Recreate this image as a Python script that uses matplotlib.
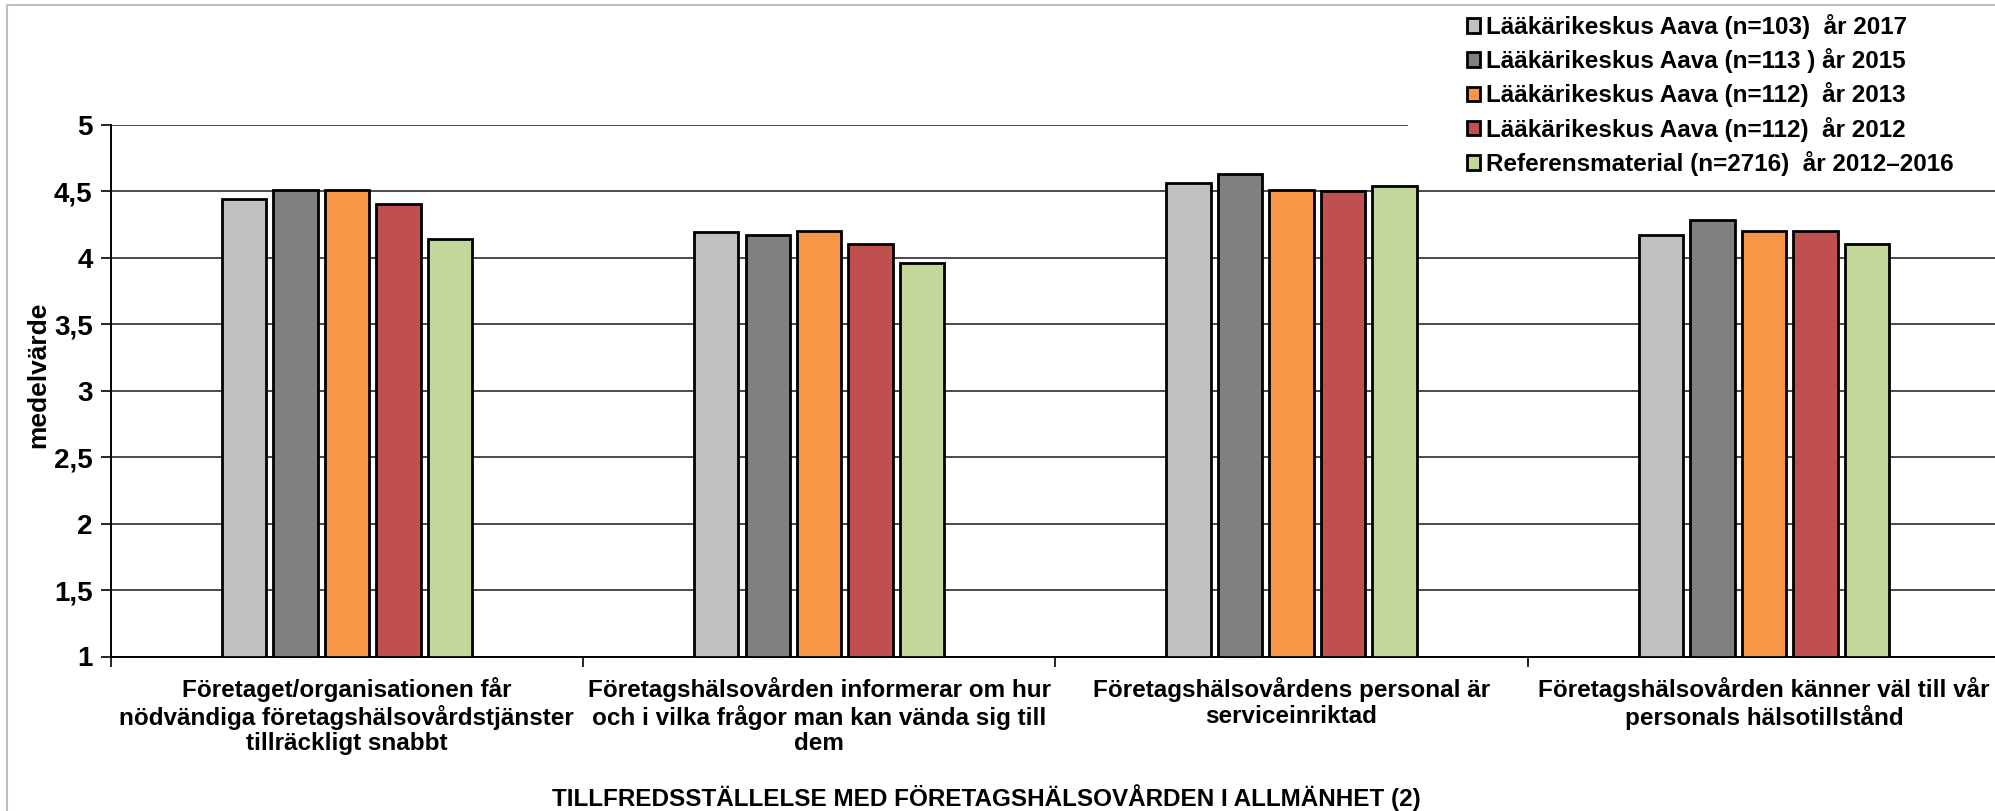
import numpy as np
import matplotlib
matplotlib.use("Agg")
import matplotlib.pyplot as plt
from matplotlib.patches import Rectangle

plt.rcParams["font.family"] = ["Liberation Sans", "DejaVu Sans"]
plt.rcParams["font.weight"] = "bold"

categories = [
    "Företaget/organisationen får\nnödvändiga företagshälsovårdstjänster\ntillräckligt snabbt",
    "Företagshälsovården informerar om hur\noch i vilka frågor man kan vända sig till\ndem",
    "Företagshälsovårdens personal är\nserviceinriktad",
    "Företagshälsovården känner väl till vår\npersonals hälsotillstånd",
]
series_names = [
    "Lääkärikeskus Aava (n=103)  år 2017",
    "Lääkärikeskus Aava (n=113 ) år 2015",
    "Lääkärikeskus Aava (n=112)  år 2013",
    "Lääkärikeskus Aava (n=112)  år 2012",
    "Referensmaterial (n=2716)  år 2012–2016",
]
values_2017 = [4.44, 4.19, 4.56, 4.17]
values_2015 = [4.51, 4.17, 4.63, 4.28]
values_2013 = [4.51, 4.20, 4.51, 4.20]
values_2012 = [4.40, 4.10, 4.50, 4.20]
values_ref = [4.14, 3.96, 4.54, 4.10]
colors = ["#C0C0C0", "#808080", "#F79646", "#C0504D", "#C4D79B"]
yticks = [1, 1.5, 2, 2.5, 3, 3.5, 4, 4.5, 5]
ytick_labels = ["1", "1,5", "2", "2,5", "3", "3,5", "4", "4,5", "5"]

all_values = [values_2017, values_2015, values_2013, values_2012, values_ref]

W, H = 1995, 811
fig = plt.figure(figsize=(W / 100, H / 100), dpi=100)
ax = fig.add_axes([110.7 / W, 1 - 656.5 / H, (2000 - 110.7) / W, (656.5 - 124.7) / H])

x = np.arange(len(categories))
step = 0.109
width = 0.094
for i, (vals, name, col) in enumerate(zip(all_values, series_names, colors)):
    offs = (i - 2) * step
    ax.bar(x + offs, np.array(vals) - 1, bottom=1, width=width, color=col,
           edgecolor="black", linewidth=2.0, label=name, zorder=3)

ax.set_xlim(-0.5, len(categories) - 0.5)
ax.set_ylim(1, 5)
ax.set_yticks(yticks)
ax.set_yticklabels(ytick_labels, fontsize=20, fontweight="bold")
ax.yaxis.grid(True, color="#4a4a4a", linewidth=1.4, zorder=0)
ax.set_axisbelow(True)

ax.set_xticks(x)
ax.set_xticklabels(categories, fontsize=17.5, fontweight="bold", linespacing=1.13)
ax.set_xticks(np.arange(len(categories) + 1) - 0.5, minor=True)
ax.tick_params(axis="x", which="major", length=0, pad=15)
ax.tick_params(axis="x", which="minor", length=7, width=1.2, direction="out")
ax.tick_params(axis="y", length=7, width=1.2, direction="out", pad=6)

for s in ["top", "right"]:
    ax.spines[s].set_visible(False)
ax.spines["left"].set_linewidth(1.4)
ax.spines["bottom"].set_linewidth(1.4)

ax.set_ylabel("medelvärde", fontsize=19, fontweight="bold")
ax.yaxis.set_label_coords(-0.032, 0.529)
fig.text(986 / W, 1 - 798 / H, "TILLFREDSSTÄLLELSE MED FÖRETAGSHÄLSOVÅRDEN I ALLMÄNHET (2)",
         ha="center", va="center", fontsize=17.5, fontweight="bold")

# white area behind the legend hides the top gridline
fig.patches.append(Rectangle((1408 / W, 1 - 178 / H), 1, 168 / H, transform=fig.transFigure,
                             facecolor="white", edgecolor="none", zorder=2))
# outer chart border
fig.patches.append(Rectangle((7 / W, -0.1), 1.2, 1.1 - 5 / H, transform=fig.transFigure,
                             facecolor="none", edgecolor="#BFBFBF", linewidth=1.5, zorder=6))

handles, labels = ax.get_legend_handles_labels()
leg = fig.legend(handles, labels, loc="upper left", bbox_to_anchor=(1450 / W, 1 + 3 / H),
                 frameon=False, fontsize=17.5, handlelength=0.55, handleheight=0.55,
                 handletextpad=0.25, labelspacing=0.38, borderpad=0.2)
for t in leg.get_texts():
    t.set_fontweight("bold")

fig.savefig("out.png", dpi=100)
